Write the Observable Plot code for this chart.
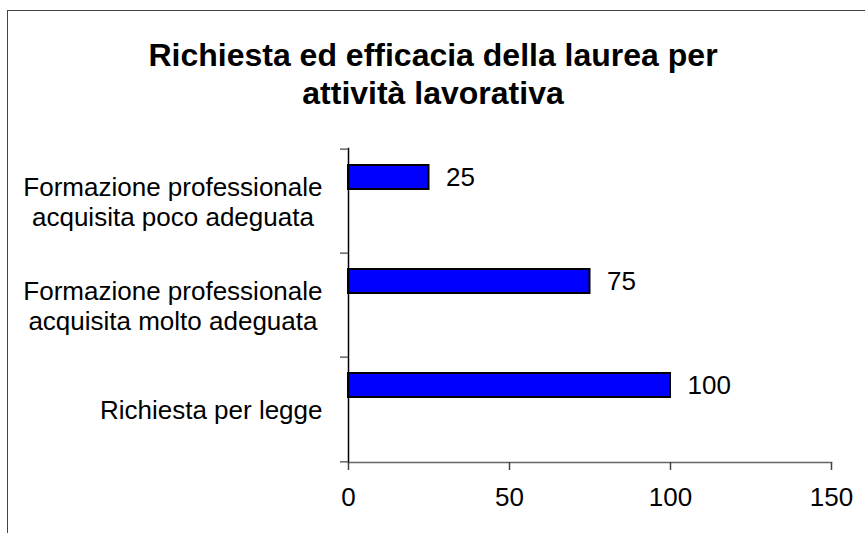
<!DOCTYPE html>
<html>
<head>
<meta charset="utf-8">
<script src="https://cdn.jsdelivr.net/npm/d3@7"></script>
<script src="https://cdn.jsdelivr.net/npm/@observablehq/plot@0.6"></script>
<style>
  html, body { margin: 0; padding: 0; background: #fff; }
  #wrap { position: relative; width: 865px; height: 533px; overflow: hidden; font-family: "Liberation Sans", Arial, sans-serif; }
  #border { position: absolute; left: 7px; top: 10px; width: 900px; height: 600px; border: 1.5px solid #444; pointer-events: none; }
  #title { position: absolute; left: 0; top: 36px; width: 866px; text-align: center; font-weight: bold; font-size: 32px; line-height: 38px; color: #000; }
  #chart { position: absolute; left: 0; top: 0; }
</style>
</head>
<body>
<div id="wrap">
  <div id="chart"></div>
  <div id="title">Richiesta ed efficacia della laurea per<br>attività lavorativa</div>
  <div id="border"></div>
</div>
<script>
const categories = [
  "Formazione professionale\nacquisita poco adeguata",
  "Formazione professionale\nacquisita molto adeguata",
  "Richiesta per legge"
];
const values = [25, 75, 100];
const xTicks = [0, 50, 100, 150];

const data = categories.map((c, i) => ({category: c, value: values[i]}));

const W = 865, H = 533;
const mL = 348, mR = 34, mT = 148, mB = 71;
const bw = (H - mT - mB) / categories.length;
const fw = W - mL - mR;

const chart = Plot.plot({
  width: W,
  height: H,
  marginLeft: mL,
  marginRight: mR,
  marginTop: mT,
  marginBottom: mB,
  style: {fontFamily: "'Liberation Sans', Arial, sans-serif", fontSize: "26px", color: "#000", background: "transparent"},
  x: {domain: [0, 150]},
  y: {domain: categories, padding: 0},
  marks: [
    Plot.barX(data, {y: "category", x: "value", fill: "#0000FF", stroke: "#000", strokeWidth: 2, insetTop: 16, insetBottom: 64}),
    Plot.text(data, {y: "category", x: "value", text: d => String(d.value), textAnchor: "start", dx: 17, dy: -24, fontSize: 26, fill: "#000"}),
    Plot.frame({anchor: "bottom", stroke: "#666", strokeWidth: 1.5}),
    Plot.frame({anchor: "left", stroke: "#000", strokeWidth: 1.5}),
    Plot.ruleY(categories, {y: d => d, dy: -bw / 2, dx: -8, insetRight: fw - 8, stroke: "#666", strokeWidth: 1.5}),
    Plot.ruleY(categories.slice(-1), {y: d => d, dy: bw / 2, dx: -8, insetRight: fw - 8, stroke: "#666", strokeWidth: 1.5}),
    Plot.axisX({ticks: xTicks, tickSize: 8, tickPadding: 17, stroke: "#444", strokeWidth: 1.5, fontSize: 26, label: null, tickFormat: d => String(d), fill: "#000"}),
    Plot.axisY({tickSize: 0, tickPadding: 26, fontSize: 26, label: null, lineHeight: 1.15, fill: "#000"})
  ]
});
document.getElementById("chart").appendChild(chart);

// Center the lines of each multi-line category label within its block (as in the original)
chart.querySelectorAll('g[aria-label="y-axis tick label"] text').forEach(t => {
  const spans = t.querySelectorAll("tspan");
  if (spans.length < 2) return;
  let maxW = 0;
  spans.forEach(s => { maxW = Math.max(maxW, s.getComputedTextLength()); });
  spans.forEach(s => { s.setAttribute("x", -maxW / 2); s.setAttribute("text-anchor", "middle"); });
});
</script>
</body>
</html>
